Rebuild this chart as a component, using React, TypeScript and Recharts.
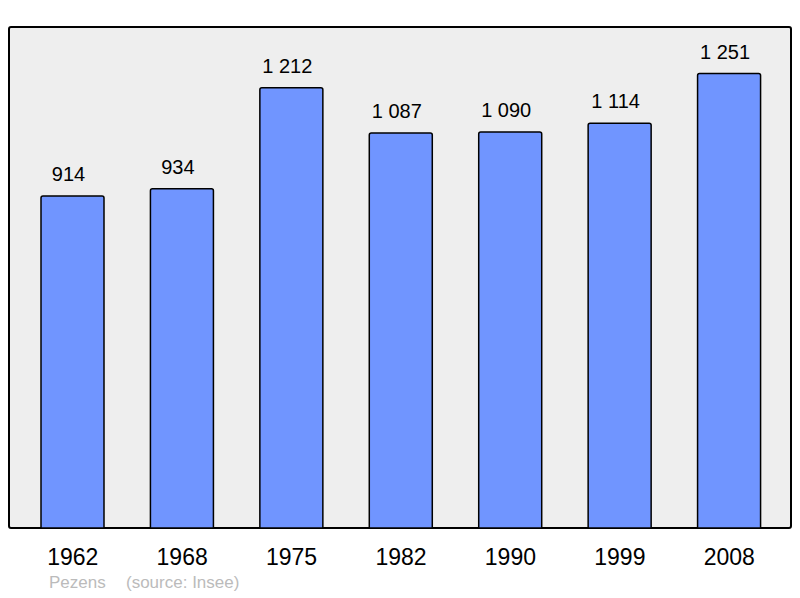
import React from "react";
import { BarChart, Bar, XAxis, YAxis, LabelList } from "recharts";

const years = ["1962", "1968", "1975", "1982", "1990", "1999", "2008"];
const population = [914, 934, 1212, 1087, 1090, 1114, 1251];
const captionName = "Pezens";
const captionSource = "(source: Insee)";

const data = years.map((y, i) => ({ year: y, value: population[i] }));

const fmt = (v: any) => String(v).replace(/\B(?=(\d{3})+(?!\d))/g, " ");

const FONT = "'Liberation Sans', Arial, sans-serif";

const renderLabel = (props: any) => {
  const { x, y, width, value } = props;
  return (
    <text x={Number(x) + Number(width) / 2 - 4} y={Number(y) - 15} textAnchor="middle" fontSize={20} fill="#000" fontFamily={FONT}>
      {fmt(value)}
    </text>
  );
};

export default function App() {
  return (
    <div style={{ position: "absolute", left: 0, top: 0, width: 800, height: 598, background: "#fff", fontFamily: FONT }}>
      <div style={{ position: "absolute", left: 8, top: 26, width: 780, height: 499, background: "#eeeeee", border: "2px solid #000", borderRadius: 3 }} />
      <div style={{ position: "absolute", left: 0, top: 0 }}>
        <BarChart width={800} height={598} data={data} margin={{ top: 27, left: 9, right: 9, bottom: 40 }}>
          <XAxis dataKey="year" axisLine={false} tickLine={false} tickMargin={15} height={30} padding={{ left: 9, right: 7 }}
            tick={{ fontSize: 23, fill: "#000", fontFamily: FONT }} interval={0} />
          <YAxis hide domain={[0, 1379]} />
          <Bar dataKey="value" fill="#7095ff" stroke="#000" strokeWidth={1.5} barSize={63} radius={[2, 2, 0, 0]} isAnimationActive={false}>
            <LabelList dataKey="value" content={renderLabel} />
          </Bar>
        </BarChart>
      </div>
      <div style={{ position: "absolute", left: 49, top: 573, fontSize: 17, color: "#bbbbbb", whiteSpace: "pre" }}>{captionName}</div>
      <div style={{ position: "absolute", left: 126, top: 573, fontSize: 17, color: "#bbbbbb", whiteSpace: "pre" }}>{captionSource}</div>
    </div>
  );
}
